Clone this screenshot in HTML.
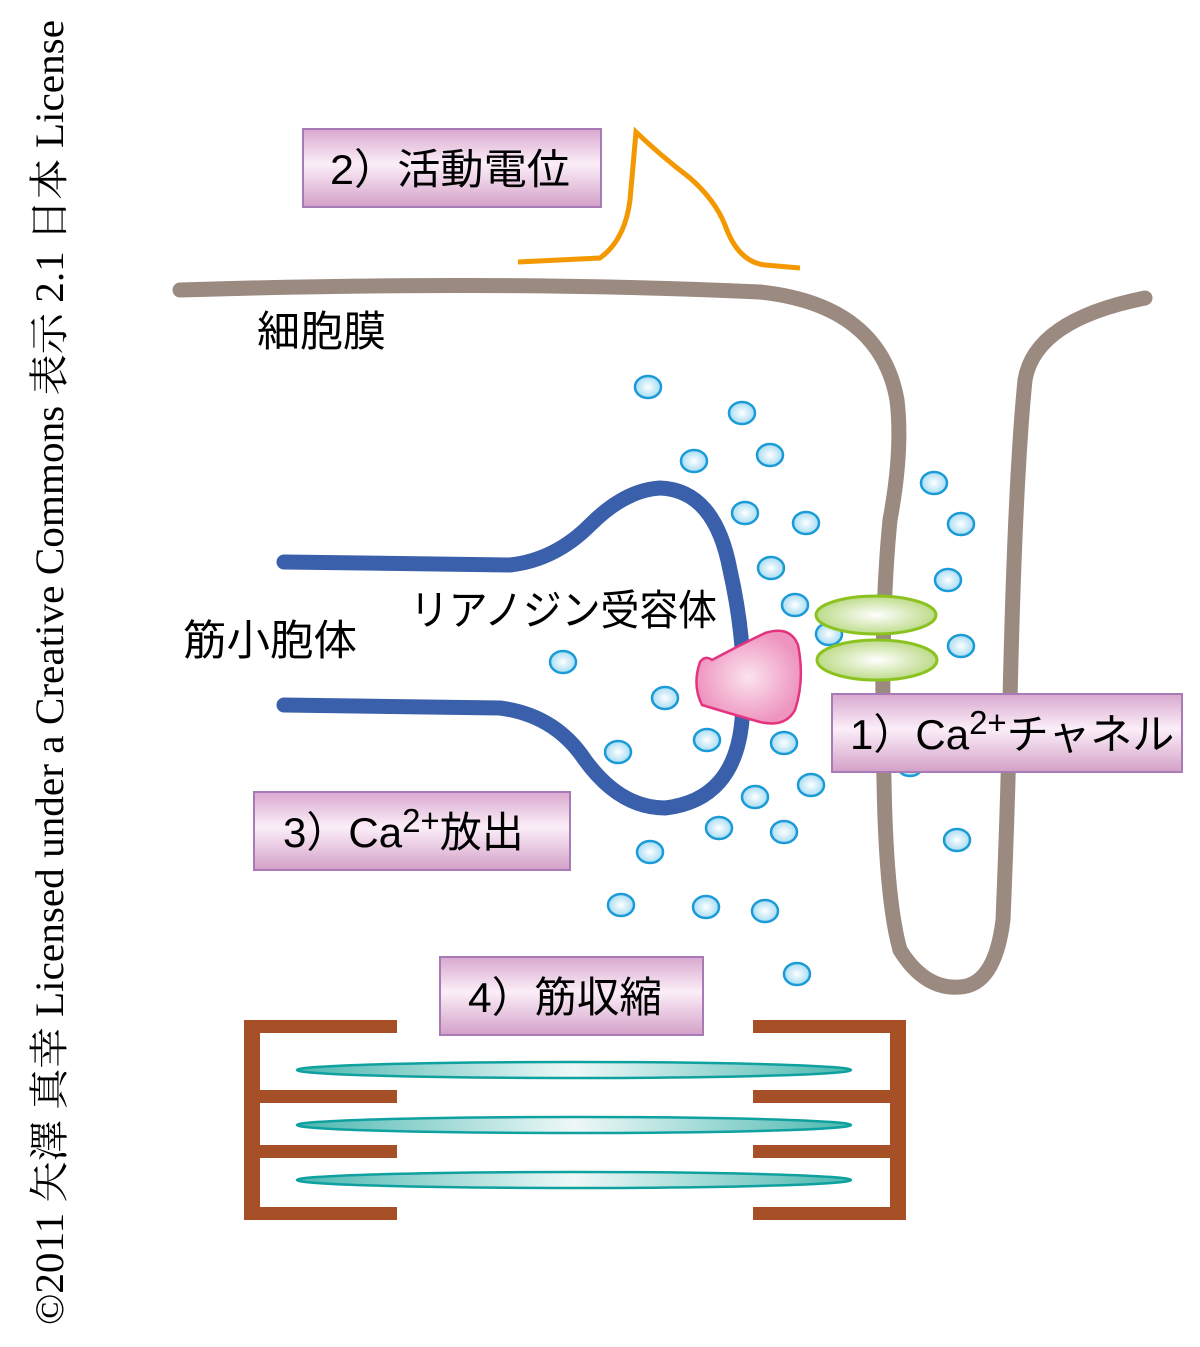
<!DOCTYPE html>
<html><head><meta charset="utf-8"><style>
body{margin:0;background:#fff}
svg text{font-family:"Liberation Sans","Noto Sans CJK JP",sans-serif}
</style></head><body>
<svg width="1200" height="1342" viewBox="0 0 1200 1342" xmlns="http://www.w3.org/2000/svg">
<defs>
<linearGradient id="box" x1="0" y1="0" x2="0" y2="1"><stop offset="0" stop-color="#d9a8cf"/><stop offset="0.45" stop-color="#fbeef8"/><stop offset="1" stop-color="#d4a0c8"/></linearGradient>
<radialGradient id="dot"><stop offset="0" stop-color="#ffffff"/><stop offset="1" stop-color="#a6dcf3"/></radialGradient>
<radialGradient id="grn"><stop offset="0" stop-color="#ffffff"/><stop offset="1" stop-color="#bddb8a"/></radialGradient>
<radialGradient id="pnk"><stop offset="0" stop-color="#fbe3ee"/><stop offset="1" stop-color="#ee95bf"/></radialGradient>
<linearGradient id="fil" x1="0" y1="0" x2="1" y2="0"><stop offset="0" stop-color="#4bb8b0"/><stop offset="0.5" stop-color="#eef8f7"/><stop offset="1" stop-color="#4bb8b0"/></linearGradient>
</defs>
<text transform="translate(63,1325) rotate(-90)" font-size="40" textLength="1305" lengthAdjust="spacingAndGlyphs" style="font-family:'Liberation Serif','Noto Serif CJK SC',serif">©2011 矢澤 真幸 Licensed under a Creative Commons 表示 2.1 日本 License</text>
<path d="M518,262 L600,258 Q625,240 630,200 L636,132 Q660,155 690,178 Q715,200 725,225 Q738,262 765,265 L800,268" fill="none" stroke="#f39800" stroke-width="5"/>
<path d="M180,290 Q500,280 760,292 Q880,305 897,400 Q903,450 890,520 Q880,620 884,780 Q886,900 900,950 Q925,990 960,987 Q995,985 1003,920 Q1008,800 1010,700 Q1015,480 1025,380 Q1035,320 1145,298" fill="none" stroke="#9b8a80" stroke-width="15" stroke-linecap="round"/>
<path d="M284,562 L510,565 Q555,560 590,525 Q625,490 660,488 Q715,490 730,570 Q748,650 742,720 Q735,800 665,808 Q620,808 585,760 Q555,715 500,708 L284,705" fill="none" stroke="#3a5fab" stroke-width="15" stroke-linecap="round"/>
<g fill="url(#dot)" stroke="#1a9ad6" stroke-width="2.5">
<ellipse cx="648" cy="387" rx="13" ry="11"/><ellipse cx="742" cy="413" rx="13" ry="11"/><ellipse cx="694" cy="461" rx="13" ry="11"/><ellipse cx="770" cy="455" rx="13" ry="11"/><ellipse cx="745" cy="513" rx="13" ry="11"/><ellipse cx="806" cy="523" rx="13" ry="11"/><ellipse cx="771" cy="568" rx="13" ry="11"/><ellipse cx="795" cy="605" rx="13" ry="11"/><ellipse cx="829" cy="634" rx="13" ry="11"/><ellipse cx="563" cy="662" rx="13" ry="11"/><ellipse cx="665" cy="698" rx="13" ry="11"/><ellipse cx="707" cy="740" rx="13" ry="11"/><ellipse cx="784" cy="743" rx="13" ry="11"/><ellipse cx="618" cy="752" rx="13" ry="11"/><ellipse cx="811" cy="785" rx="13" ry="11"/><ellipse cx="755" cy="797" rx="13" ry="11"/><ellipse cx="719" cy="828" rx="13" ry="11"/><ellipse cx="784" cy="832" rx="13" ry="11"/><ellipse cx="650" cy="852" rx="13" ry="11"/><ellipse cx="621" cy="905" rx="13" ry="11"/><ellipse cx="706" cy="907" rx="13" ry="11"/><ellipse cx="765" cy="911" rx="13" ry="11"/><ellipse cx="797" cy="974" rx="13" ry="11"/><ellipse cx="934" cy="483" rx="13" ry="11"/><ellipse cx="961" cy="524" rx="13" ry="11"/><ellipse cx="948" cy="580" rx="13" ry="11"/><ellipse cx="961" cy="646" rx="13" ry="11"/><ellipse cx="957" cy="840" rx="13" ry="11"/><ellipse cx="910" cy="765" rx="13" ry="11"/>
</g>
<g fill="url(#grn)" stroke="#8cc21f" stroke-width="3">
<ellipse cx="876" cy="615" rx="60" ry="19"/><ellipse cx="877" cy="660" rx="60" ry="20"/>
</g>
<path d="M700,662 Q705,655 712,660 Q740,645 765,633 Q790,625 798,645 Q805,680 795,710 Q785,728 760,722 Q735,715 702,705 Q692,685 700,662 Z" fill="url(#pnk)" stroke="#e4347f" stroke-width="2.5"/>
<g fill="#a74f26">
<rect x="244" y="1020" width="16" height="200"/><rect x="244" y="1020" width="153" height="13"/><rect x="244" y="1090" width="153" height="13"/><rect x="244" y="1145" width="153" height="13"/><rect x="244" y="1207" width="153" height="13"/>
<rect x="890" y="1020" width="16" height="200"/><rect x="753" y="1020" width="153" height="13"/><rect x="753" y="1090" width="153" height="13"/><rect x="753" y="1145" width="153" height="13"/><rect x="753" y="1207" width="153" height="13"/>
</g>
<g fill="url(#fil)" stroke="#0fa0a0" stroke-width="2.5">
<ellipse cx="574" cy="1070" rx="277" ry="8"/><ellipse cx="574" cy="1125" rx="277" ry="8"/><ellipse cx="574" cy="1180" rx="277" ry="8"/>
</g>
<g fill="url(#box)" stroke="#a77bb5" stroke-width="2">
<rect x="303" y="129" width="298" height="78"/><rect x="832" y="694" width="350" height="78"/><rect x="254" y="792" width="316" height="78"/><rect x="440" y="957" width="263" height="78"/>
</g>
<g font-size="42" fill="#000">
<text x="330" y="184" textLength="240" lengthAdjust="spacingAndGlyphs">2）活動電位</text>
<text x="850" y="749">1）Ca<tspan font-size="33" dy="-15">2+</tspan><tspan dy="15">チャネル</tspan></text>
<text x="283" y="847">3）Ca<tspan font-size="33" dy="-15">2+</tspan><tspan dy="15">放出</tspan></text>
<text x="468" y="1012" textLength="194" lengthAdjust="spacingAndGlyphs">4）筋収縮</text>
<text x="257" y="346" textLength="129" lengthAdjust="spacingAndGlyphs">細胞膜</text>
<text x="183" y="655" textLength="174" lengthAdjust="spacingAndGlyphs">筋小胞体</text>
<text x="410" y="625" textLength="307" lengthAdjust="spacingAndGlyphs">リアノジン受容体</text>
</g>
</svg>
</body></html>
